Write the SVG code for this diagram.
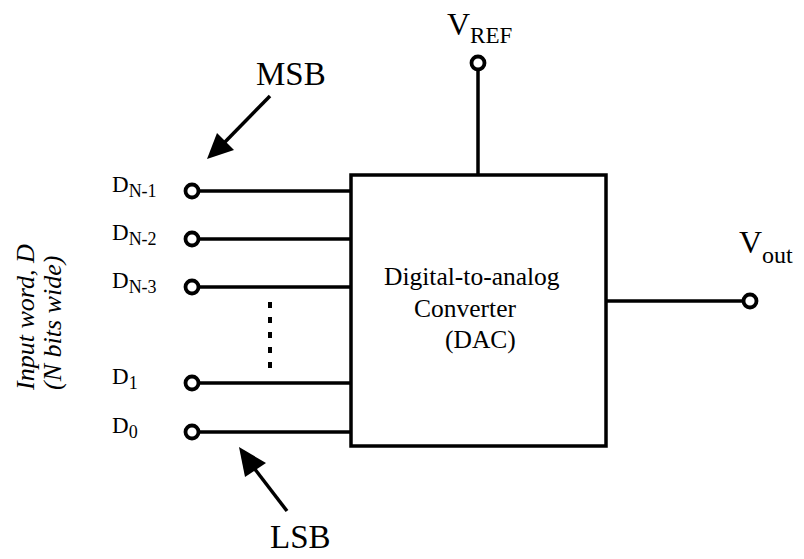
<svg xmlns="http://www.w3.org/2000/svg" width="804" height="559" viewBox="0 0 804 559">
<style>
.w{stroke:#000;stroke-width:3.5;fill:none}
.t{font-family:"Liberation Serif","Times New Roman",serif;fill:#000}
.pin{fill:#fff;stroke:#000;stroke-width:3.8}
</style>
<rect width="804" height="559" fill="#fff"/>
<g id="connectors">
<line class="w" x1="199" y1="191" x2="351" y2="191"/>
<line class="w" x1="199" y1="239" x2="351" y2="239"/>
<line class="w" x1="199" y1="287" x2="351" y2="287"/>
<line class="w" x1="199" y1="383" x2="351" y2="383"/>
<line class="w" x1="199" y1="432" x2="351" y2="432"/>
<line class="w" x1="478" y1="70" x2="478" y2="175"/>
<line class="w" x1="606" y1="301" x2="743" y2="301"/>
<line x1="270" y1="302" x2="270" y2="369" stroke="#000" stroke-width="4" stroke-dasharray="6 9"/>
<line class="w" x1="270" y1="96" x2="224" y2="143" stroke-width="3.8"/>
<polygon points="207,159 217,133 234,150" fill="#000"/>
<line class="w" x1="287" y1="511" x2="254" y2="468" stroke-width="3.8"/>
<polygon points="239,447 245,477 266,463" fill="#000"/>
</g>
<g id="dac">
<rect x="351" y="175" width="255" height="271" class="w"/>
<text class="t" font-size="25.5" x="384" y="285">Digital-to-analog</text>
<text class="t" font-size="25.5" x="414" y="317">Converter</text>
<text class="t" font-size="25.5" x="445" y="348">(DAC)</text>
</g>
<g id="vref">
<circle class="pin" cx="478" cy="63" r="6.5"/>
<text class="t" x="447" y="35"><tspan font-size="32">V</tspan><tspan font-size="23" dy="8">REF</tspan></text>
</g>
<g id="vout">
<circle class="pin" cx="750" cy="301" r="6.5"/>
<text class="t" x="739" y="253"><tspan font-size="32">V</tspan><tspan font-size="24" dy="10">out</tspan></text>
</g>
<g id="d_n1">
<circle class="pin" cx="192" cy="191" r="6.5"/>
<text class="t" x="112" y="192"><tspan font-size="23">D</tspan><tspan font-size="18" dy="5">N-1</tspan></text>
</g>
<g id="d_n2">
<circle class="pin" cx="192" cy="239" r="6.5"/>
<text class="t" x="112" y="240"><tspan font-size="23">D</tspan><tspan font-size="18" dy="5">N-2</tspan></text>
</g>
<g id="d_n3">
<circle class="pin" cx="192" cy="287" r="6.5"/>
<text class="t" x="112" y="288"><tspan font-size="23">D</tspan><tspan font-size="18" dy="5">N-3</tspan></text>
</g>
<g id="d_1">
<circle class="pin" cx="192" cy="383" r="6.5"/>
<text class="t" x="112" y="384"><tspan font-size="23">D</tspan><tspan font-size="18" dy="5">1</tspan></text>
</g>
<g id="d_0">
<circle class="pin" cx="192" cy="432" r="6.5"/>
<text class="t" x="112" y="433"><tspan font-size="23">D</tspan><tspan font-size="18" dy="5">0</tspan></text>
</g>
<g id="msb">
<text class="t" font-size="33" x="256" y="85">MSB</text>
</g>
<g id="lsb">
<text class="t" font-size="33" x="270" y="548">LSB</text>
</g>
<g id="input-label">
<text class="t" font-size="26" font-style="italic" transform="translate(34,390) rotate(-90)">Input word, D</text>
<text class="t" font-size="26" font-style="italic" transform="translate(61,390) rotate(-90)">(N bits wide)</text>
</g>
</svg>
